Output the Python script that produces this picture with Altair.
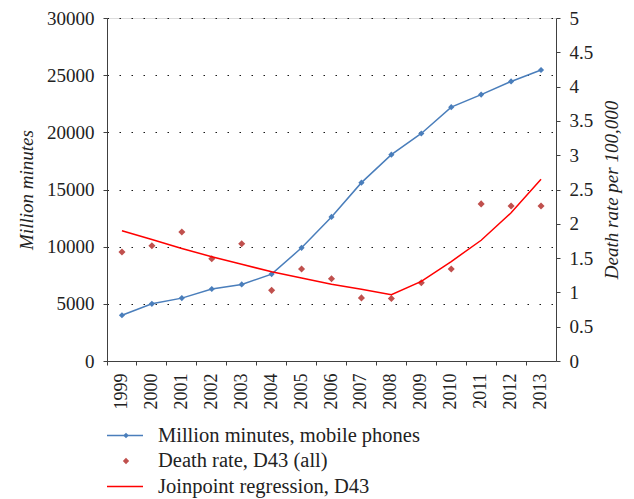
import altair as alt
import pandas as pd

years = ["1999", "2000", "2001", "2002", "2003", "2004", "2005", "2006",
         "2007", "2008", "2009", "2010", "2011", "2012", "2013"]
minutes = [4000, 5000, 5500, 6300, 6700, 7600, 9900, 12600,
           15600, 18050, 19900, 22200, 23300, 24450, 25450]
death_rate = [1.59, 1.68, 1.88, 1.49, 1.71, 1.03, 1.34, 1.20,
              0.92, 0.91, 1.14, 1.34, 2.29, 2.26, 2.26]
joinpoint = [1.90, 1.77, 1.64, 1.52, 1.41, 1.30, 1.21, 1.12,
             1.045, 0.965, 1.16, 1.45, 1.76, 2.16, 2.65]
left_ticks = [0, 5000, 10000, 15000, 20000, 25000, 30000]
right_ticks = [0, 0.5, 1, 1.5, 2, 2.5, 3, 3.5, 4, 4.5, 5]
legend_names = ["Million minutes, mobile phones", "Death rate, D43 (all)",
                "Joinpoint regression, D43"]

BLUE = "#4A7EBB"
DOT_RED = "#C0504D"
LINE_RED = "#FF0000"
FONT = "Liberation Serif"
TXT = "#222222"
AX = "#404040"

df = pd.DataFrame({"year": years, "minutes": minutes,
                   "rate": death_rate, "joinpoint": joinpoint})

x = alt.X("year:O",
          scale=alt.Scale(type="band", paddingInner=0, paddingOuter=0),
          axis=alt.Axis(title=None, labelAngle=-90, bandPosition=0, labelOffset=0,
                        tickSize=4, labelPadding=8, labelFont=FONT, labelFontSize=18,
                        labelColor=TXT, domainColor=AX, tickColor=AX, grid=False))

base = alt.Chart(df)

blue = base.mark_line(color=BLUE, strokeWidth=1.5,
                      point=alt.OverlayMarkDef(shape="diamond", size=38, filled=True,
                                               color=BLUE)).encode(
    x=x,
    y=alt.Y("minutes:Q", scale=alt.Scale(domain=[0, 30000], nice=False),
            axis=alt.Axis(title="Million minutes", values=left_ticks, format="d",
                          orient="left", tickSize=4, labelPadding=9,
                          labelFont=FONT, labelFontSize=19, labelColor=TXT,
                          titleFont=FONT, titleFontSize=19, titleFontStyle="italic",
                          titleFontWeight="normal", titleColor=TXT, titlePadding=10,
                          domainColor=AX, tickColor=AX,
                          grid=True, gridColor="#000000", gridDash=[1.5, 10.5],
                          gridWidth=1.2, gridOpacity=0.9))
)

dots = base.mark_point(shape="diamond", size=50, filled=True, opacity=1,
                       color=DOT_RED).encode(
    x=x,
    y=alt.Y("rate:Q", scale=alt.Scale(domain=[0, 5], nice=False),
            axis=alt.Axis(title="Death rate per 100,000", values=right_ticks,
                          format="~g", orient="right", tickSize=4, labelPadding=9,
                          labelFont=FONT, labelFontSize=19, labelColor=TXT,
                          titleFont=FONT, titleFontSize=19, titleFontStyle="italic",
                          titleFontWeight="normal", titleColor=TXT, titlePadding=10,
                          titleAngle=270, titleBaseline="top",
                          domainColor=AX, tickColor=AX, grid=False))
)

rline = base.mark_line(color=LINE_RED, strokeWidth=1.5).encode(
    x=x,
    y=alt.Y("joinpoint:Q", scale=alt.Scale(domain=[0, 5], nice=False), axis=None)
)

# manual legend below the axis
one = pd.DataFrame({"k": [0]})
row_y = [417.5, 443, 468.5]
leg_layers = []
leg_layers.append(alt.Chart(one).mark_rule(color=BLUE, strokeWidth=1.5).encode(
    x=alt.value(0), x2=alt.value(36), y=alt.value(row_y[0])))
leg_layers.append(alt.Chart(one).mark_point(shape="diamond", size=30, filled=True,
                                            opacity=1, color=BLUE).encode(
    x=alt.value(19), y=alt.value(row_y[0])))
leg_layers.append(alt.Chart(one).mark_point(shape="diamond", size=40, filled=True,
                                            opacity=1, color=DOT_RED).encode(
    x=alt.value(19), y=alt.value(row_y[1])))
leg_layers.append(alt.Chart(one).mark_rule(color=LINE_RED, strokeWidth=1.5).encode(
    x=alt.value(0), x2=alt.value(36), y=alt.value(row_y[2])))
for i, name in enumerate(legend_names):
    leg_layers.append(
        alt.Chart(pd.DataFrame({"name": [name]})).mark_text(
            align="left", baseline="middle", font=FONT, fontSize=20.5, color=TXT
        ).encode(text="name:N", x=alt.value(51), y=alt.value(row_y[i]))
    )

chart = alt.layer(blue, dots, rline, *leg_layers).resolve_scale(
    y="independent"
).properties(
    width=449, height=343,
    autosize=alt.AutoSizeParams(type="none"),
    padding={"left": 99, "top": 10, "right": 70, "bottom": 138},
).configure_view(stroke=AX, strokeWidth=1).configure(background="white")

chart.save("out.html", embed_options={"renderer": "svg", "actions": False})
